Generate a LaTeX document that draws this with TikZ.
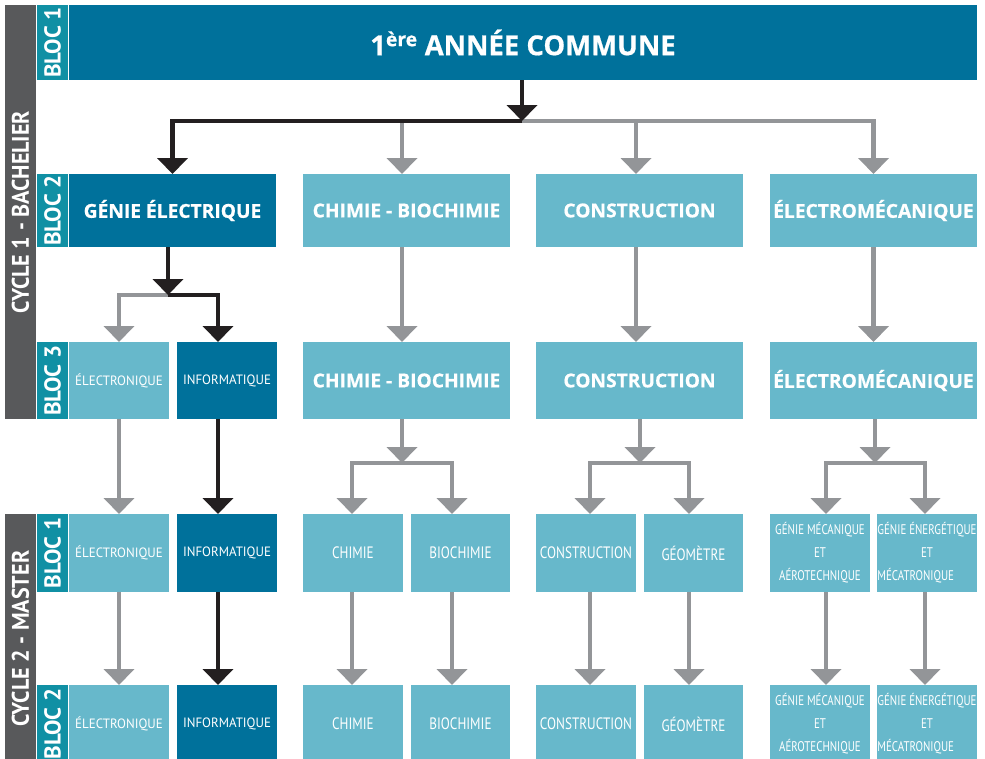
\documentclass[tikz,border=0pt]{standalone}
\usepackage{fontspec}
\usepackage{calc}
\usetikzlibrary{arrows.meta}
\setmainfont{PT Sans}
\newfontfamily\headfont[BoldFeatures={FakeBold=0.6}]{Open Sans}
\newfontfamily\condfont[FakeStretch=0.96]{PT Sans}
\newfontfamily\condbfont[FakeStretch=0.8]{PT Sans}
\newfontfamily\condcfont[FakeStretch=0.78]{PT Sans}
\newfontfamily\sidefont{PT Sans}
\newfontfamily\cyclefont[FakeStretch=0.92]{PT Sans}
\definecolor{dblue}{HTML}{00719B}
\definecolor{lteal}{HTML}{67B8CB}
\definecolor{bteal}{HTML}{1090A4}
\definecolor{sgray}{HTML}{58595B}
\definecolor{agray}{HTML}{939598}
\definecolor{ablack}{HTML}{231F20}
\tikzset{
  anybox/.style={inner sep=0pt, outer sep=0pt, text=white, align=center},
  dbox/.style={anybox, fill=dblue},
  lbox/.style={anybox, fill=lteal},
  bigw/.style={minimum width=207pt},
  smallw/.style={minimum width=100pt},
  headtxt/.style={font=\headfont\bfseries\fontsize{19.2}{21}\selectfont},
  smalltxt/.style={font=\condfont\fontsize{13.5}{23}\selectfont},
  midtxt/.style={font=\condbfont\fontsize{16.5}{23}\selectfont},
  threetxt/.style={font=\condcfont\fontsize{14}{23}\selectfont},
  bloclab/.style={anybox, fill=bteal, minimum width=31pt},
  bloctxt/.style={rotate=90, text=white, inner sep=0pt, font=\sidefont\bfseries\fontsize{23}{25}\selectfont},
  cyclebar/.style={anybox, fill=sgray, minimum width=31pt},
  cycletxt/.style={rotate=90, text=white, inner sep=0pt, font=\cyclefont\bfseries\fontsize{24}{26}\selectfont},
  conn/.style={line width=4.3pt, -{Triangle[width=30pt,length=16pt]}},
  gconn/.style={conn, draw=agray},
  kconn/.style={conn, draw=ablack},
  gline/.style={line width=4.3pt, draw=agray},
}
\begin{document}
\begin{tikzpicture}[x=1pt, y=-1pt]
\useasboundingbox (0,0) rectangle (985,758);
\fill[white] (0,0) rectangle (985,758);
% side bars
\node[cyclebar, minimum height=414pt] (cyc1) at (20.5,212) {};
\node[cycletxt] (cyc1t) at (cyc1) {CYCLE 1 - BACHELIER};
\node[cyclebar, minimum height=249pt] (cyc2) at (20.5,638.5) {};
\node[cycletxt] (cyc2t) at (cyc2) {CYCLE 2 - MASTER};
\node[bloclab, minimum height=75pt] (b1) at (52.5,42.5) {};
\node[bloctxt] (b1t) at (b1) {BLOC 1};
\node[bloclab, minimum height=73pt] (b2) at (52.5,210.5) {};
\node[bloctxt] (b2t) at (b2) {BLOC 2};
\node[bloclab, minimum height=77pt] (b3) at (52.5,380.5) {};
\node[bloctxt] (b3t) at (b3) {BLOC 3};
\node[bloclab, minimum height=78pt] (m1) at (52.5,553) {};
\node[bloctxt] (m1t) at (m1) {BLOC 1};
\node[bloclab, minimum height=78pt] (m2) at (52.5,724) {};
\node[bloctxt] (m2t) at (m2) {BLOC 2};
% row 1
\node[dbox, minimum width=908pt, minimum height=75pt, font=\headfont\bfseries\fontsize{27.5}{30}\selectfont] (annee) at (523,42.5) {1\textsuperscript{ère} ANNÉE COMMUNE};
% row 2
\node[dbox, bigw, minimum height=73pt, headtxt] (ge) at (172.5,210.5) {GÉNIE ÉLECTRIQUE};
\node[lbox, bigw, minimum height=73pt, headtxt] (ch2) at (406.5,210.5) {CHIMIE - BIOCHIMIE};
\node[lbox, bigw, minimum height=73pt, headtxt] (co2) at (639.5,210.5) {CONSTRUCTION};
\node[lbox, bigw, minimum height=73pt, headtxt] (em2) at (873.5,210.5) {ÉLECTROMÉCANIQUE};
% row 3
\node[lbox, smallw, minimum height=77pt, smalltxt] (el3) at (119,380.5) {ÉLECTRONIQUE};
\node[dbox, smallw, minimum height=77pt, smalltxt] (in3) at (227,380.5) {INFORMATIQUE};
\node[lbox, bigw, minimum height=77pt, headtxt] (ch3) at (406.5,380.5) {CHIMIE - BIOCHIMIE};
\node[lbox, bigw, minimum height=77pt, headtxt] (co3) at (639.5,380.5) {CONSTRUCTION};
\node[lbox, bigw, minimum height=77pt, headtxt] (em3) at (873.5,380.5) {ÉLECTROMÉCANIQUE};
% row 4
\node[lbox, smallw, minimum height=78pt, smalltxt] (el4) at (119,553) {ÉLECTRONIQUE};
\node[dbox, smallw, minimum height=78pt, smalltxt] (in4) at (227,553) {INFORMATIQUE};
\node[lbox, smallw, minimum height=78pt, midtxt] (chi4) at (353,553) {CHIMIE};
\node[lbox, minimum width=99pt, minimum height=78pt, midtxt] (bio4) at (460.5,553) {BIOCHIMIE};
\node[lbox, smallw, minimum height=78pt, midtxt] (con4) at (586,553) {CONSTRUCTION};
\node[lbox, minimum width=99pt, minimum height=78pt, midtxt] (geo4) at (693.5,553) {GÉOMÈTRE};
\node[lbox, smallw, minimum height=78pt, threetxt] (gm4) at (820,553) {GÉNIE MÉCANIQUE\\ET\\AÉROTECHNIQUE};
\node[lbox, smallw, minimum height=78pt, threetxt] (gen4) at (927,553) {GÉNIE ÉNERGÉTIQUE\\ET\\\makebox[\widthof{GÉNIE ÉNERGÉTIQUE}][l]{MÉCATRONIQUE}};
% row 5
\node[lbox, smallw, minimum height=78pt, smalltxt] (el5) at (119,724) {ÉLECTRONIQUE};
\node[dbox, smallw, minimum height=78pt, smalltxt] (in5) at (227,724) {INFORMATIQUE};
\node[lbox, smallw, minimum height=78pt, midtxt] (chi5) at (353,724) {CHIMIE};
\node[lbox, minimum width=99pt, minimum height=78pt, midtxt] (bio5) at (460.5,724) {BIOCHIMIE};
\node[lbox, smallw, minimum height=78pt, midtxt] (con5) at (586,724) {CONSTRUCTION};
\node[lbox, minimum width=99pt, minimum height=78pt, midtxt] (geo5) at (693.5,724) {GÉOMÈTRE};
\node[lbox, smallw, minimum height=78pt, threetxt] (gm5) at (820,724) {GÉNIE MÉCANIQUE\\ET\\AÉROTECHNIQUE};
\node[lbox, smallw, minimum height=78pt, threetxt] (gen5) at (927,724) {GÉNIE ÉNERGÉTIQUE\\ET\\\makebox[\widthof{GÉNIE ÉNERGÉTIQUE}][l]{MÉCATRONIQUE}};
% junctions
\coordinate (j0) at (522,121);
\coordinate (jge) at (168,295);
\coordinate (jch) at (402,463);
\coordinate (jco) at (640,463);
\coordinate (jem) at (875,463);
% row 1 -> row 2
\draw[gline] (j0) -- (875,121);
\draw[gconn] (j0) -| ([xshift=-4.5pt]ch2.north);
\draw[gconn] (j0) -| ([xshift=-3.5pt]co2.north);
\draw[gconn] (j0) -| (em2.north);
\draw[kconn] (j0) -| (ge.north);
\draw[kconn] (annee.south -| j0) -- (j0);
% GE split
\draw[gconn] (jge) -| (el3.north);
\draw[kconn] (jge) -| ([xshift=-9pt]in3.north);
\draw[kconn] (ge.south -| jge) -- (jge);
% row 2 -> row 3
\draw[gconn] ([xshift=-4.5pt]ch2.south) -- ([xshift=-4.5pt]ch3.north);
\draw[gconn] ([xshift=-3.5pt]co2.south) -- ([xshift=-3.5pt]co3.north);
\draw[gconn] (em2.south) -- (em3.north);
% row 3 -> row 4
\draw[gconn] (el3.south) -- (el4.north);
\draw[kconn] ([xshift=-9pt]in3.south) -- ([xshift=-9pt]in4.north);
\draw[gconn] (jch) -| ([xshift=-1pt]chi4.north);
\draw[gconn] (jch) -| ([xshift=-8.5pt]bio4.north);
\draw[gconn] (ch3.south -| jch) -- (jch);
\draw[gconn] (jco) -| ([xshift=4pt]con4.north);
\draw[gconn] (jco) -| ([xshift=-4.5pt]geo4.north);
\draw[gconn] (co3.south -| jco) -- (jco);
\draw[gconn] (jem) -| ([xshift=6pt]gm4.north);
\draw[gconn] (jem) -| ([xshift=-2pt]gen4.north);
\draw[gconn] (em3.south -| jem) -- (jem);
% row 4 -> row 5
\draw[gconn] (el4.south) -- (el5.north);
\draw[kconn] ([xshift=-9pt]in4.south) -- ([xshift=-9pt]in5.north);
\draw[gconn] ([xshift=-1pt]chi4.south) -- ([xshift=-1pt]chi5.north);
\draw[gconn] ([xshift=-8.5pt]bio4.south) -- ([xshift=-8.5pt]bio5.north);
\draw[gconn] ([xshift=4pt]con4.south) -- ([xshift=4pt]con5.north);
\draw[gconn] ([xshift=-4.5pt]geo4.south) -- ([xshift=-4.5pt]geo5.north);
\draw[gconn] ([xshift=6pt]gm4.south) -- ([xshift=6pt]gm5.north);
\draw[gconn] ([xshift=-2pt]gen4.south) -- ([xshift=-2pt]gen5.north);
\end{tikzpicture}
\end{document}
